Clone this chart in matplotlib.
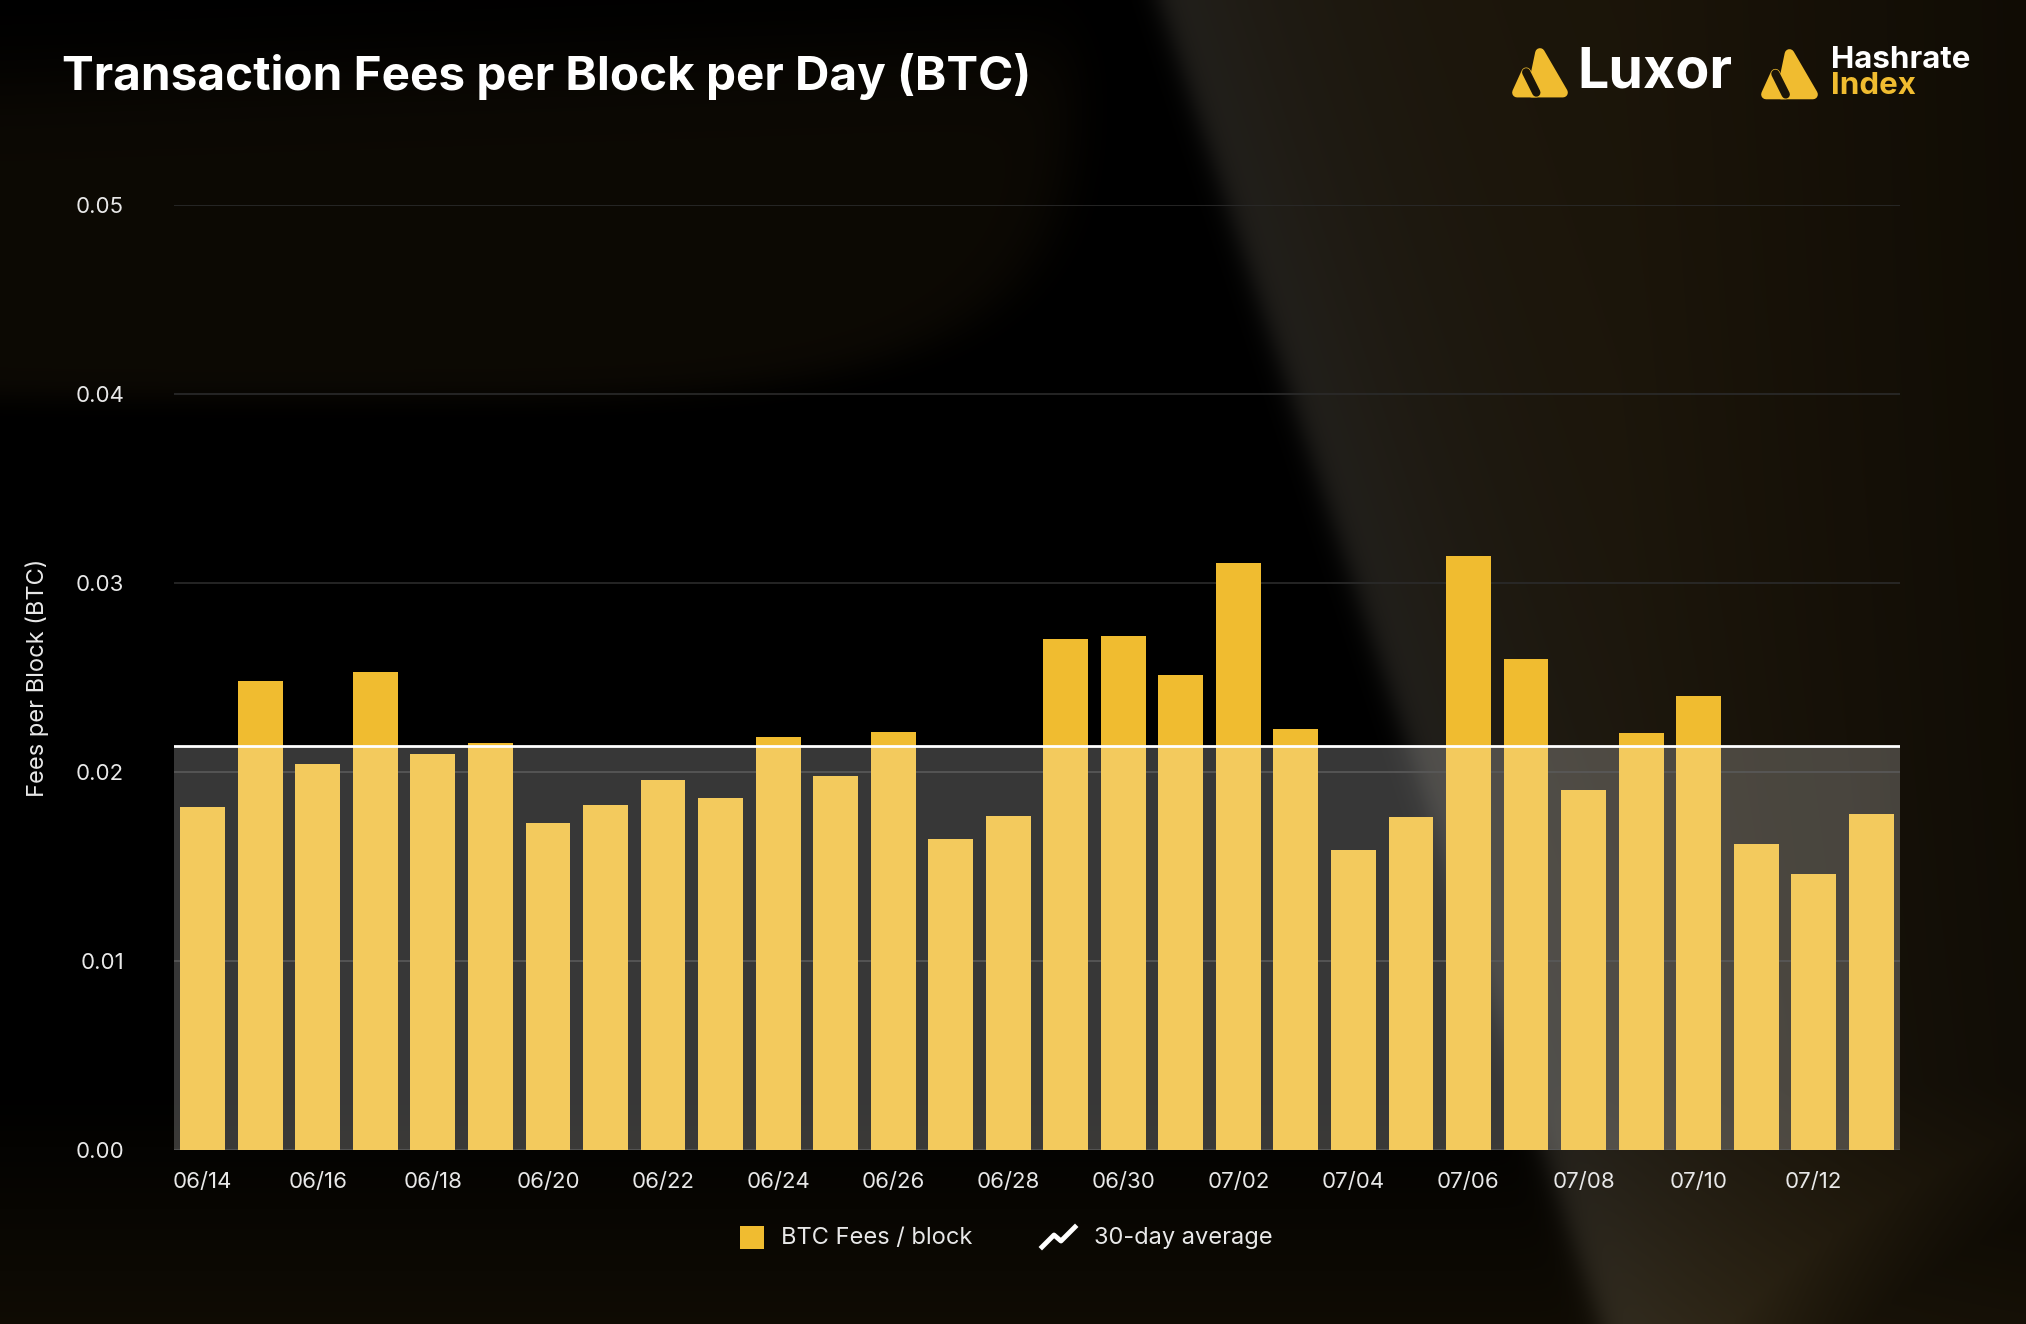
import numpy as np
import matplotlib
matplotlib.use('Agg')
import matplotlib.pyplot as plt
from matplotlib.patches import Polygon, Rectangle
from matplotlib.lines import Line2D

plt.rcParams['font.family'] = ['Inter', 'DejaVu Sans']

# data
days = ['06/14', '06/15', '06/16', '06/17', '06/18', '06/19', '06/20', '06/21',
        '06/22', '06/23', '06/24', '06/25', '06/26', '06/27', '06/28', '06/29',
        '06/30', '07/01', '07/02', '07/03', '07/04', '07/05', '07/06', '07/07',
        '07/08', '07/09', '07/10', '07/11', '07/12', '07/13']
fees = [0.01817, 0.02480, 0.02042, 0.02527, 0.02097, 0.02152, 0.01728, 0.01824,
        0.01960, 0.01865, 0.02186, 0.01981, 0.02213, 0.01646, 0.01769, 0.02705,
        0.02719, 0.02514, 0.03108, 0.02227, 0.01585, 0.01762, 0.03142, 0.02596,
        0.01906, 0.02206, 0.02404, 0.01619, 0.01462, 0.01776]
avg_30d = 0.02138
y_ticks = [0.00, 0.01, 0.02, 0.03, 0.04, 0.05]

GOLD = '#F0BC30'
W, H = 2026, 1324

fig = plt.figure(figsize=(W / 100, H / 100), dpi=100)
fig.patch.set_facecolor('black')

# background: black with brownish swooshes
bg = fig.add_axes([0, 0, 1, 1], zorder=-1)
gh, gw = H // 4, W // 4
u, v = np.meshgrid(np.linspace(0, 1, gw), np.linspace(0, 1, gh))
# diagonal edge on the right (x from 1160px at top, slope 0.333)
edge_x = (1160 + 0.333 * v * H) / W
d = u - edge_x
right = 1 / (1 + np.exp(-d / 0.004))
brown = np.array([0.105, 0.078, 0.03])
grey = np.array([0.16, 0.152, 0.135])
near = np.exp(-np.clip(d, 0, None) / 0.09)
img = right[..., None] * (brown * (1 - 0.4 * np.clip((u - 0.8) / 0.2, 0, 1))[..., None] * (1 - near[..., None])
                          + grey * near[..., None] * 0.85)
# darker curve bottom right
cr = np.sqrt(((u - 1.25) / 0.55) ** 2 + ((v - 1.25) / 0.55) ** 2)
img *= np.clip(0.35 + 0.65 * (cr - 0.75) / 0.1, 0.35, 1)[..., None]
# warm tint at the bottom
img += np.clip((v - 0.82) / 0.18, 0, 1)[..., None] * np.array([0.06, 0.045, 0.015])
# brown lobe top-left
lobe = ((u - 0.14) / 0.39) ** 4 + ((v + 0.02) / 0.32) ** 4
lobe_m = 1 / (1 + np.exp((lobe - 1) / 0.08))
top_m = 1 / (1 + np.exp(-((v - (0.06 - 0.05 * u)) / 0.02)))
img += (lobe_m * top_m)[..., None] * np.array([0.05, 0.037, 0.015])
bg.imshow(np.clip(img, 0, 1), aspect='auto', extent=[0, 1, 0, 1], interpolation='bilinear')
bg.axis('off')

ax = fig.add_axes([174 / W, 1 - 1150 / H, (1900 - 174) / W, (1150 - 205) / H])
ax.patch.set_alpha(0)

x = np.arange(len(days))
ax.bar(x, fees, width=0.78, color=GOLD, zorder=2)
ax.axhspan(0, avg_30d, color='white', alpha=0.22, lw=0, zorder=3)
ax.axhline(avg_30d, color='white', lw=2, zorder=4)

ax.set_xlim(-0.5, len(days) - 0.5)
ax.set_ylim(0, 0.05)
ax.set_yticks(y_ticks)
ax.set_yticklabels([f'{t:.2f}' for t in y_ticks])
ax.set_xticks(x[::2])
ax.set_xticklabels(days[::2])
ax.grid(axis='y', color='#2b2b2b', lw=1.2, zorder=0)
for s in ax.spines.values():
    s.set_visible(False)
ax.tick_params(axis='both', length=0, colors='#e8e8e8', labelsize=16)
ax.tick_params(axis='y', pad=36)
ax.tick_params(axis='x', pad=16)

fig.text(37 / W, 1 - 678 / H, 'Fees per Block (BTC)', rotation=90, color='#e8e8e8',
         fontsize=17, ha='center', va='center')

fig.text(62 / W, 1 - 77 / H, 'Transaction Fees per Block per Day (BTC)', color='white',
         fontsize=34.3, fontweight='bold', ha='left', va='center')


# logos
def px(pts):
    return [(a / W, 1 - b / H) for a, b in pts]


def logo_icon(x0, y0, s):
    big = [(x0 + 0.50 * s, y0), (x0 + s, y0 + 0.86 * s), (x0 + 0.32 * s, y0 + 0.86 * s)]
    fig.add_artist(Polygon(px(big), closed=True, transform=fig.transFigure,
                           fc=GOLD, ec=GOLD, lw=7, joinstyle='round'))
    small = [(x0 + 0.20 * s, y0 + 0.42 * s), (x0 + 0.42 * s, y0 + 0.86 * s),
             (x0, y0 + 0.86 * s)]
    fig.add_artist(Line2D([a for a, b in px(small[:2])], [b for a, b in px(small[:2])],
                          transform=fig.transFigure, color='#1a1408', lw=6,
                          solid_capstyle='round'))
    fig.add_artist(Polygon(px(small), closed=True, transform=fig.transFigure,
                           fc=GOLD, ec=GOLD, lw=7, joinstyle='round'))


logo_icon(1517, 53, 46)
fig.text(1577 / W, 1 - 73 / H, 'Luxor', color='white', fontsize=40, fontweight='bold',
         ha='left', va='center')
logo_icon(1766, 54, 47)
fig.text(1831 / W, 1 - 60 / H, 'Hashrate', color='white', fontsize=22.5, fontweight='bold',
         ha='left', va='center')
fig.text(1831 / W, 1 - 86 / H, 'Index', color=GOLD, fontsize=22.5, fontweight='bold',
         ha='left', va='center')

# legend
fig.add_artist(Rectangle((740 / W, 1 - 1249 / H), 24 / W, 23 / H, transform=fig.transFigure,
                         fc=GOLD, ec='none'))
fig.text(781 / W, 1 - 1238 / H, 'BTC Fees / block', color='#e8e8e8', fontsize=17,
         ha='left', va='center')
zig = [(1042, 1247), (1054, 1235), (1061, 1241), (1075, 1227)]
fig.add_artist(Line2D([a for a, b in px(zig)], [b for a, b in px(zig)],
                      transform=fig.transFigure, color='white', lw=3.5))
fig.text(1094 / W, 1 - 1238 / H, '30-day average', color='#e8e8e8', fontsize=17,
         ha='left', va='center')

fig.savefig('out.png', dpi=100, facecolor=fig.get_facecolor())
